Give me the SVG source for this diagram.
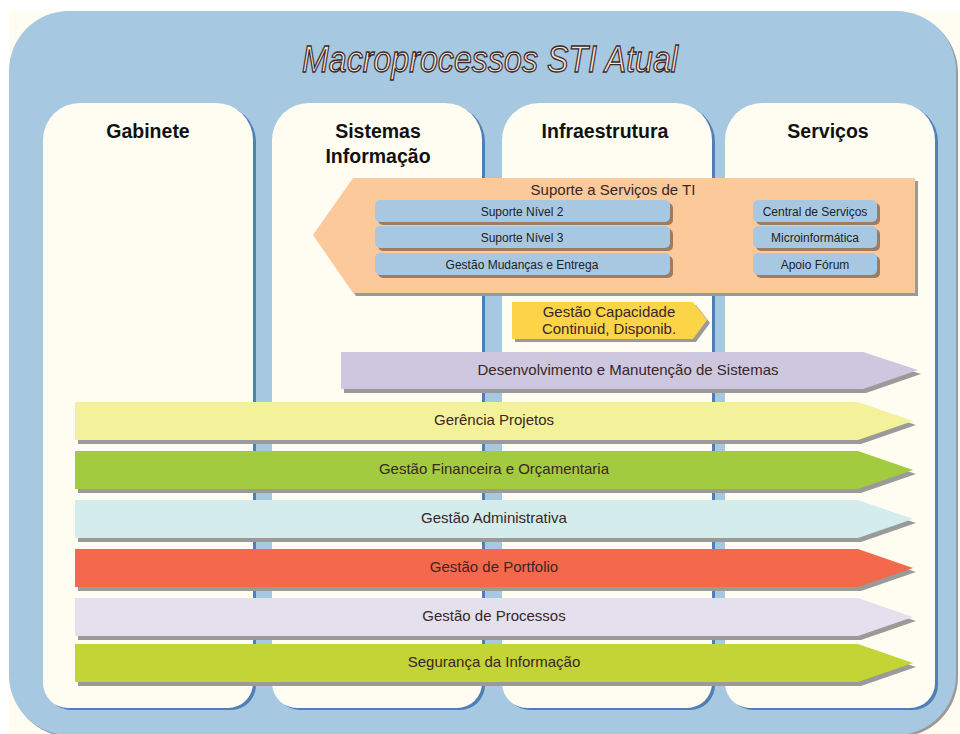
<svg xmlns="http://www.w3.org/2000/svg" width="960" height="734" viewBox="0 0 960 734">
<defs>
<style>
.col{fill:#fffdf2}
.colsh{fill:#4f7fb5}
.head{font-family:"Liberation Sans",Arial,sans-serif;font-weight:bold;font-size:19.5px;fill:#111;text-anchor:middle}
.lbl{font-family:"Liberation Sans",Arial,sans-serif;font-size:15px;fill:#3a2626;text-anchor:middle}
.pill{fill:#a8c8e2}
.pillsh{fill:#9c7c62}
.ptxt{font-family:"Liberation Sans",Arial,sans-serif;font-size:12px;fill:#222;text-anchor:middle}
.sh{fill:#9a9a9a}
</style>
<path id="colshape" d="M0,37 A37,37 0 0 1 37,0 H173 A37,37 0 0 1 210,37 V580 A25,25 0 0 1 185,605 H25 A25,25 0 0 1 0,580 Z"/>
<path id="bar" d="M0,0 H783 L838,19 L783,38 H0 Z"/>
</defs>
<rect x="0" y="0" width="960" height="734" fill="#ffffff"/>
<rect x="9" y="11" width="951" height="723" fill="#fffdf2"/>
<g id="frame">
<rect x="11" y="13" width="947" height="724" rx="60" fill="#9a9a9a"/>
<rect x="9" y="11" width="947" height="724" rx="60" fill="#a6c8e0"/>
<text x="490" y="72" font-family="'Liberation Sans',Arial,sans-serif" font-style="italic" font-size="37" fill="#fde3d6" stroke="#3a2a2a" stroke-width="1.3" text-anchor="middle" textLength="376" lengthAdjust="spacingAndGlyphs">Macroprocessos STI Atual</text>
</g>
<g id="col-gabinete">
<use href="#colshape" class="colsh" transform="translate(46,105)"/>
<use href="#colshape" class="col" transform="translate(43,103)"/>
<text class="head" x="148" y="138">Gabinete</text>
</g>
<g id="col-sistemas">
<use href="#colshape" class="colsh" transform="translate(275,105)"/>
<use href="#colshape" class="col" transform="translate(272,103)"/>
<text class="head" x="378" y="138">Sistemas</text>
<text class="head" x="378" y="163">Informação</text>
</g>
<g id="col-infra">
<use href="#colshape" class="colsh" transform="translate(505,105)"/>
<use href="#colshape" class="col" transform="translate(502,103)"/>
<text class="head" x="605" y="138">Infraestrutura</text>
</g>
<g id="col-servicos">
<use href="#colshape" class="colsh" transform="translate(728,105)"/>
<use href="#colshape" class="col" transform="translate(725,103)"/>
<text class="head" x="828" y="138">Serviços</text>
</g>
<g id="suporte">
<path class="sh" d="M356,181 H918 V296 H356 L316,238 Z"/>
<path fill="#fcc99b" d="M353,178 H915 V293 H353 L313,235 Z"/>
<text class="lbl" x="613" y="195">Suporte a Serviços de TI</text>
</g>
<g id="suporte-n2">
<rect class="pillsh" x="378" y="203" width="295" height="22" rx="5"/>
<rect class="pill" x="375" y="200" width="295" height="22" rx="5"/>
<text class="ptxt" x="522" y="215.5">Suporte Nível 2</text>
</g>
<g id="suporte-n3">
<rect class="pillsh" x="378" y="229" width="295" height="22" rx="5"/>
<rect class="pill" x="375" y="226" width="295" height="22" rx="5"/>
<text class="ptxt" x="522" y="241.5">Suporte Nível 3</text>
</g>
<g id="gestao-mudancas">
<rect class="pillsh" x="378" y="256" width="295" height="22" rx="5"/>
<rect class="pill" x="375" y="253" width="295" height="22" rx="5"/>
<text class="ptxt" x="522" y="268.5">Gestão Mudanças e Entrega</text>
</g>
<g id="central-servicos">
<rect class="pillsh" x="756" y="203" width="124" height="22" rx="5"/>
<rect class="pill" x="753" y="200" width="124" height="22" rx="5"/>
<text class="ptxt" x="815" y="215.5">Central de Serviços</text>
</g>
<g id="microinformatica">
<rect class="pillsh" x="756" y="229" width="124" height="22" rx="5"/>
<rect class="pill" x="753" y="226" width="124" height="22" rx="5"/>
<text class="ptxt" x="815" y="241.5">Microinformática</text>
</g>
<g id="apoio-forum">
<rect class="pillsh" x="756" y="256" width="124" height="22" rx="5"/>
<rect class="pill" x="753" y="253" width="124" height="22" rx="5"/>
<text class="ptxt" x="815" y="268.5">Apoio Fórum</text>
</g>
<g id="gestao-capacidade">
<path class="sh" d="M515,305 H696 L710,323 L696,342 H515 Z"/>
<path fill="#fcd448" d="M512,302 H693 L707,320 L693,339 H512 Z"/>
<text class="lbl" x="609" y="317">Gestão Capacidade</text>
<text class="lbl" x="609" y="334">Continuid, Disponib.</text>
</g>
<g id="desenvolvimento">
<path class="sh" d="M344,356 H866 L921,374 L866,393 H344 Z"/>
<path fill="#cdc7e0" d="M341,352 H863 L918,370 L863,389 H341 Z"/>
<text class="lbl" x="628" y="375">Desenvolvimento e Manutenção de Sistemas</text>
</g>
<g id="gerencia-projetos">
<use href="#bar" class="sh" transform="translate(78,406)"/>
<use href="#bar" fill="#f3f29a" transform="translate(75,402)"/>
<text class="lbl" x="494" y="425">Gerência Projetos</text>
</g>
<g id="gestao-financeira">
<use href="#bar" class="sh" transform="translate(78,455)"/>
<use href="#bar" fill="#a3cb3f" transform="translate(75,451)"/>
<text class="lbl" x="494" y="474">Gestão Financeira e Orçamentaria</text>
</g>
<g id="gestao-administrativa">
<use href="#bar" class="sh" transform="translate(78,504)"/>
<use href="#bar" fill="#d4ecec" transform="translate(75,500)"/>
<text class="lbl" x="494" y="523">Gestão Administrativa</text>
</g>
<g id="gestao-portfolio">
<use href="#bar" class="sh" transform="translate(78,553)"/>
<use href="#bar" fill="#f4694c" transform="translate(75,549)"/>
<text class="lbl" x="494" y="572">Gestão de Portfolio</text>
</g>
<g id="gestao-processos">
<use href="#bar" class="sh" transform="translate(78,602)"/>
<use href="#bar" fill="#e4e0ee" transform="translate(75,598)"/>
<text class="lbl" x="494" y="621">Gestão de Processos</text>
</g>
<g id="seguranca">
<use href="#bar" class="sh" transform="translate(78,648)"/>
<use href="#bar" fill="#c3d436" transform="translate(75,644)"/>
<text class="lbl" x="494" y="667">Segurança da Informação</text>
</g>
<g id="connectors"/>
</svg>
